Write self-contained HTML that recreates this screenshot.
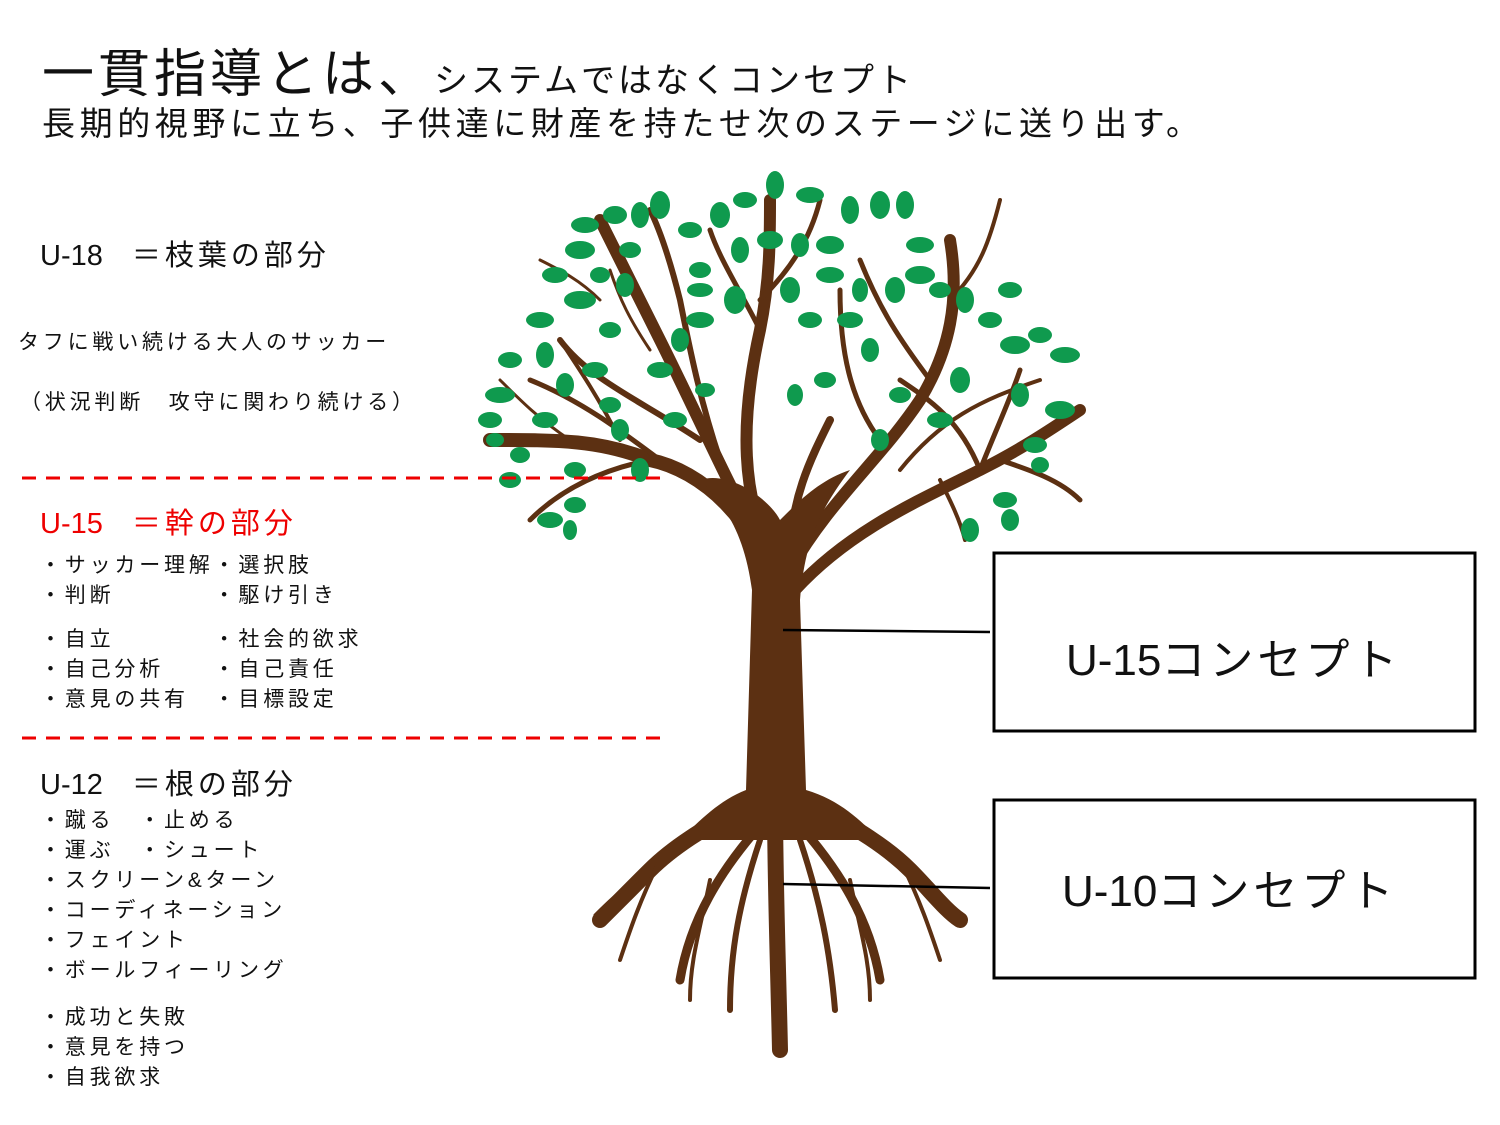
<!DOCTYPE html>
<html><head><meta charset="utf-8"><style>
body{margin:0;width:1500px;height:1125px;background:#fff;position:relative;overflow:hidden;font-family:"Liberation Sans","Noto Sans CJK JP",sans-serif;color:#111}
.t{position:absolute;white-space:nowrap}
.s{font-size:21px;letter-spacing:3.8px}
</style></head><body>
<svg width="1500" height="1125" style="position:absolute;left:0;top:0">
<g stroke="#5c3012" fill="none" stroke-linecap="round">
<path d="M775 600 C760 520 700 470 650 460 C600 440 560 440 490 440" stroke-width="14"/>
<path d="M770 560 C730 490 700 420 660 340 C640 300 620 260 600 220" stroke-width="12"/>
<path d="M775 560 C740 500 740 420 760 330 C770 280 770 240 770 200" stroke-width="12"/>
<path d="M790 570 C830 500 880 460 920 400 C950 350 960 300 950 240" stroke-width="12"/>
<path d="M795 590 C850 530 920 500 980 470 C1020 450 1050 430 1080 410" stroke-width="12"/>
<path d="M790 560 C790 500 810 460 830 420" stroke-width="8"/>
<path d="M720 460 C700 400 690 350 680 300 C670 260 660 230 650 210" stroke-width="6"/>
<path d="M700 440 C640 400 590 380 560 340" stroke-width="6"/>
<path d="M660 460 C620 430 580 400 530 380" stroke-width="5"/>
<path d="M650 460 C600 470 560 490 530 520" stroke-width="5"/>
<path d="M760 330 C740 290 720 260 710 230" stroke-width="5"/>
<path d="M760 300 C790 270 810 240 820 200" stroke-width="5"/>
<path d="M880 440 C850 400 840 350 840 290" stroke-width="5"/>
<path d="M930 380 C900 340 880 310 860 260" stroke-width="5"/>
<path d="M950 300 C980 270 990 240 1000 200" stroke-width="4"/>
<path d="M980 470 C1000 420 1010 400 1020 370" stroke-width="5"/>
<path d="M1000 460 C1030 470 1060 480 1080 500" stroke-width="5"/>
<path d="M980 470 C960 420 930 400 900 380" stroke-width="5"/>
<path d="M900 470 C940 420 980 400 1040 380" stroke-width="4"/>
<path d="M620 440 C600 400 580 370 560 340" stroke-width="4"/>
<path d="M570 440 C540 420 520 400 500 380" stroke-width="3"/>
<path d="M600 300 C580 280 560 270 540 260" stroke-width="3"/>
<path d="M650 350 C630 320 620 300 610 270" stroke-width="3"/>
<path d="M940 480 C950 500 960 520 965 540" stroke-width="4"/>
<path d="M770 790 C720 820 680 840 650 870 C630 890 610 910 600 920" stroke-width="16"/>
<path d="M790 790 C840 820 880 840 910 870 C930 890 945 910 960 920" stroke-width="16"/>
<path d="M765 820 C720 870 690 920 680 980" stroke-width="9"/>
<path d="M795 820 C840 870 870 920 880 980" stroke-width="9"/>
<path d="M775 800 C775 880 778 960 780 1050" stroke-width="16"/>
<path d="M760 840 C740 900 730 950 730 1010" stroke-width="6"/>
<path d="M800 840 C820 900 830 950 835 1010" stroke-width="6"/>
<path d="M660 860 C640 900 630 930 620 960" stroke-width="4"/>
<path d="M900 860 C920 900 930 930 940 960" stroke-width="4"/>
<path d="M710 880 C700 930 690 960 690 1000" stroke-width="4"/>
<path d="M850 880 C860 930 870 960 870 1000" stroke-width="4"/>
<path d="M640 880 C620 890 610 900 595 915" stroke-width="3"/>
</g>
<path d="M752 590 C745 540 730 510 700 480 C730 470 770 500 780 520 C800 500 820 480 850 470 C820 510 805 540 800 600 L806 790 C840 800 860 820 880 840 L680 840 C700 820 720 800 746 790 Z" fill="#5c3012"/>
<g fill="#0f9a4e">
<ellipse cx="775" cy="185" rx="9" ry="14"/><ellipse cx="810" cy="195" rx="14" ry="8"/><ellipse cx="745" cy="200" rx="12" ry="8"/>
<ellipse cx="720" cy="215" rx="10" ry="13"/><ellipse cx="690" cy="230" rx="12" ry="8"/><ellipse cx="660" cy="205" rx="10" ry="14"/>
<ellipse cx="640" cy="215" rx="9" ry="13"/><ellipse cx="615" cy="215" rx="12" ry="9"/><ellipse cx="585" cy="225" rx="14" ry="8"/>
<ellipse cx="630" cy="250" rx="11" ry="8"/><ellipse cx="580" cy="250" rx="15" ry="9"/><ellipse cx="555" cy="275" rx="13" ry="8"/>
<ellipse cx="600" cy="275" rx="10" ry="8"/><ellipse cx="625" cy="285" rx="9" ry="12"/><ellipse cx="580" cy="300" rx="16" ry="9"/>
<ellipse cx="610" cy="330" rx="11" ry="8"/><ellipse cx="545" cy="355" rx="9" ry="13"/><ellipse cx="510" cy="360" rx="12" ry="8"/>
<ellipse cx="500" cy="395" rx="15" ry="8"/><ellipse cx="490" cy="420" rx="12" ry="8"/><ellipse cx="495" cy="440" rx="9" ry="7"/>
<ellipse cx="565" cy="385" rx="9" ry="12"/><ellipse cx="595" cy="370" rx="13" ry="8"/><ellipse cx="610" cy="405" rx="11" ry="8"/>
<ellipse cx="620" cy="430" rx="9" ry="11"/><ellipse cx="660" cy="370" rx="13" ry="8"/><ellipse cx="680" cy="340" rx="9" ry="12"/>
<ellipse cx="700" cy="320" rx="14" ry="8"/><ellipse cx="700" cy="270" rx="11" ry="8"/><ellipse cx="700" cy="290" rx="13" ry="7"/>
<ellipse cx="740" cy="250" rx="9" ry="13"/><ellipse cx="735" cy="300" rx="11" ry="14"/><ellipse cx="705" cy="390" rx="10" ry="7"/>
<ellipse cx="770" cy="240" rx="13" ry="9"/><ellipse cx="800" cy="245" rx="9" ry="12"/><ellipse cx="790" cy="290" rx="10" ry="13"/>
<ellipse cx="830" cy="245" rx="14" ry="9"/><ellipse cx="850" cy="210" rx="9" ry="14"/><ellipse cx="880" cy="205" rx="10" ry="14"/>
<ellipse cx="905" cy="205" rx="9" ry="14"/><ellipse cx="920" cy="245" rx="14" ry="8"/><ellipse cx="920" cy="275" rx="15" ry="9"/>
<ellipse cx="830" cy="275" rx="14" ry="8"/><ellipse cx="860" cy="290" rx="8" ry="12"/><ellipse cx="850" cy="320" rx="13" ry="8"/>
<ellipse cx="895" cy="290" rx="10" ry="13"/><ellipse cx="940" cy="290" rx="11" ry="8"/><ellipse cx="965" cy="300" rx="9" ry="13"/>
<ellipse cx="990" cy="320" rx="12" ry="8"/><ellipse cx="1015" cy="345" rx="15" ry="9"/><ellipse cx="1040" cy="335" rx="12" ry="8"/>
<ellipse cx="1065" cy="355" rx="15" ry="8"/><ellipse cx="1060" cy="410" rx="15" ry="9"/><ellipse cx="1035" cy="445" rx="12" ry="8"/>
<ellipse cx="1040" cy="465" rx="9" ry="8"/><ellipse cx="1020" cy="395" rx="9" ry="12"/><ellipse cx="1010" cy="290" rx="12" ry="8"/>
<ellipse cx="1005" cy="500" rx="12" ry="8"/><ellipse cx="1010" cy="520" rx="9" ry="11"/><ellipse cx="970" cy="530" rx="9" ry="12"/>
<ellipse cx="960" cy="380" rx="10" ry="13"/><ellipse cx="940" cy="420" rx="13" ry="8"/><ellipse cx="900" cy="395" rx="11" ry="8"/>
<ellipse cx="870" cy="350" rx="9" ry="12"/><ellipse cx="810" cy="320" rx="12" ry="8"/><ellipse cx="795" cy="395" rx="8" ry="11"/>
<ellipse cx="825" cy="380" rx="11" ry="8"/><ellipse cx="880" cy="440" rx="9" ry="11"/><ellipse cx="675" cy="420" rx="12" ry="8"/>
<ellipse cx="545" cy="420" rx="13" ry="8"/><ellipse cx="520" cy="455" rx="10" ry="8"/><ellipse cx="575" cy="470" rx="11" ry="8"/>
<ellipse cx="575" cy="505" rx="11" ry="8"/><ellipse cx="550" cy="520" rx="13" ry="8"/><ellipse cx="570" cy="530" rx="7" ry="10"/>
<ellipse cx="640" cy="470" rx="9" ry="12"/><ellipse cx="510" cy="480" rx="11" ry="8"/><ellipse cx="540" cy="320" rx="14" ry="8"/>
</g>
<line x1="22" y1="478" x2="670" y2="478" stroke="#e00" stroke-width="3" stroke-dasharray="14 10"/>
<line x1="22" y1="738" x2="670" y2="738" stroke="#e00" stroke-width="3" stroke-dasharray="14 10"/>
<line x1="783" y1="630" x2="990" y2="632" stroke="#000" stroke-width="2.5"/>
<line x1="783" y1="884" x2="990" y2="888" stroke="#000" stroke-width="2.5"/>
<rect x="994" y="553" width="481" height="178" fill="#fff" stroke="#000" stroke-width="3"/>
<rect x="994" y="800" width="481" height="178" fill="#fff" stroke="#000" stroke-width="3"/>
</svg>
<div class="t" style="left:42px;top:32px;font-size:52px;letter-spacing:4px">一貫指導とは、<span style="font-size:34px;letter-spacing:3px">システムではなくコンセプト</span></div>
<div class="t" style="left:42px;top:97px;font-size:33px;letter-spacing:4.6px">長期的視野に立ち、子供達に財産を持たせ次のステージに送り出す。</div>
<div class="t" style="left:40px;top:232px;font-size:29px">U-18　<span style="letter-spacing:4px">＝枝葉の部分</span></div>
<div class="t s" style="left:18px;top:326px">タフに戦い続ける大人のサッカー</div>
<div class="t s" style="left:20px;top:386px">（状況判断　攻守に関わり続ける）</div>
<div class="t" style="left:40px;top:500px;font-size:29px;color:#e00">U-15　<span style="letter-spacing:4px">＝幹の部分</span></div>
<div class="t s" style="left:40px;top:551px;line-height:30px">・サッカー理解・選択肢<br>・判断　　　　・駆け引き</div>
<div class="t s" style="left:40px;top:625px;line-height:30px">・自立　　　　・社会的欲求<br>・自己分析　　・自己責任<br>・意見の共有　・目標設定</div>
<div class="t" style="left:40px;top:761px;font-size:29px">U-12　<span style="letter-spacing:4px">＝根の部分</span></div>
<div class="t s" style="left:40px;top:806px;line-height:30px">・蹴る　・止める<br>・運ぶ　・シュート<br>・スクリーン&amp;ターン<br>・コーディネーション<br>・フェイント<br>・ボールフィーリング</div>
<div class="t s" style="left:40px;top:1003px;line-height:30px">・成功と失敗<br>・意見を持つ<br>・自我欲求</div>
<div class="t" style="left:1066px;top:624px;font-size:44px">U-15<span style="letter-spacing:4px">コンセプト</span></div>
<div class="t" style="left:1062px;top:855px;font-size:44px">U-10<span style="letter-spacing:4px">コンセプト</span></div>
</body></html>
